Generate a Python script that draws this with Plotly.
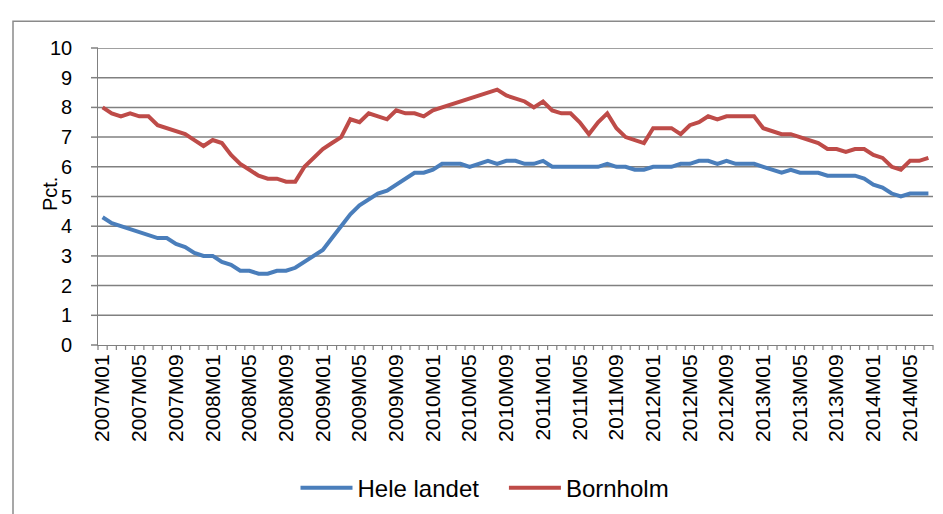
import plotly.graph_objects as go

# Months 2007M01 .. 2014M07
years = [2007, 2008, 2009, 2010, 2011, 2012, 2013, 2014]
categories = [f"{y}M{m:02d}" for y in years for m in range(1, 13)][:91]

hele_landet = [
    4.3, 4.1, 4.0, 3.9, 3.8, 3.7, 3.6, 3.6, 3.4, 3.3,
    3.1, 3.0, 3.0, 2.8, 2.7, 2.5, 2.5, 2.4, 2.4, 2.5,
    2.5, 2.6, 2.8, 3.0, 3.2, 3.6, 4.0, 4.4, 4.7, 4.9,
    5.1, 5.2, 5.4, 5.6, 5.8, 5.8, 5.9, 6.1, 6.1, 6.1,
    6.0, 6.1, 6.2, 6.1, 6.2, 6.2, 6.1, 6.1, 6.2, 6.0,
    6.0, 6.0, 6.0, 6.0, 6.0, 6.1, 6.0, 6.0, 5.9, 5.9,
    6.0, 6.0, 6.0, 6.1, 6.1, 6.2, 6.2, 6.1, 6.2, 6.1,
    6.1, 6.1, 6.0, 5.9, 5.8, 5.9, 5.8, 5.8, 5.8, 5.7,
    5.7, 5.7, 5.7, 5.6, 5.4, 5.3, 5.1, 5.0, 5.1, 5.1,
    5.1,
]

bornholm = [
    8.0, 7.8, 7.7, 7.8, 7.7, 7.7, 7.4, 7.3, 7.2, 7.1,
    6.9, 6.7, 6.9, 6.8, 6.4, 6.1, 5.9, 5.7, 5.6, 5.6,
    5.5, 5.5, 6.0, 6.3, 6.6, 6.8, 7.0, 7.6, 7.5, 7.8,
    7.7, 7.6, 7.9, 7.8, 7.8, 7.7, 7.9, 8.0, 8.1, 8.2,
    8.3, 8.4, 8.5, 8.6, 8.4, 8.3, 8.2, 8.0, 8.2, 7.9,
    7.8, 7.8, 7.5, 7.1, 7.5, 7.8, 7.3, 7.0, 6.9, 6.8,
    7.3, 7.3, 7.3, 7.1, 7.4, 7.5, 7.7, 7.6, 7.7, 7.7,
    7.7, 7.7, 7.3, 7.2, 7.1, 7.1, 7.0, 6.9, 6.8, 6.6,
    6.6, 6.5, 6.6, 6.6, 6.4, 6.3, 6.0, 5.9, 6.2, 6.2,
    6.3,
]

y_ticks = list(range(0, 11))
label_step = 4

x_idx = list(range(len(categories)))
tick_pos = x_idx[::label_step]
tick_text = categories[::label_step]

FONT = "Liberation Sans"
GRID = "#808080"
NBSP = "\u00a0"

W, H = 943, 514
L, R, T, B = 90, 18, 40, 173
pw, ph = W - L - R, H - T - B

def px(xp):
    return (xp - L) / pw

def py(yp):
    return (H - B - yp) / ph

xr = [-0.5, len(categories) - 0.5]
yr = [0, 10]

def xpaper(v):
    return (v - xr[0]) / (xr[1] - xr[0])

def ypaper(v):
    return (v - yr[0]) / (yr[1] - yr[0])

fig = go.Figure()

# horizontal gridlines, drawn on the data axes beneath the series
gx, gy = [], []
for v in y_ticks[1:]:
    gx += [xr[0], xr[1], None]
    gy += [v, v, None]
fig.add_trace(go.Scatter(x=gx, y=gy, mode="lines", line=dict(color=GRID, width=1.5),
                         showlegend=False, hoverinfo="skip"))

fig.add_trace(go.Scatter(x=x_idx, y=hele_landet, mode="lines",
                         name="Hele landet" + NBSP * 3,
                         line=dict(color="#4a7ebb", width=4)))
fig.add_trace(go.Scatter(x=x_idx, y=bornholm, mode="lines", name="Bornholm",
                         line=dict(color="#be4b48", width=4)))

shapes = []
# y-axis tick marks
for v in y_ticks:
    shapes.append(dict(type="line", xref="paper", yref="paper", x0=-7 / pw, x1=0,
                       y0=ypaper(v), y1=ypaper(v), line=dict(color=GRID, width=1.5)))
# x-axis tick marks at category boundaries
for i in range(len(categories) + 1):
    b = xpaper(i - 0.5)
    shapes.append(dict(type="line", xref="paper", yref="paper", x0=b, x1=b, y0=0, y1=-5 / ph,
                       line=dict(color=GRID, width=1.2)))
# outer chart border
shapes.append(dict(type="rect", xref="paper", yref="paper",
                   x0=px(5), x1=px(960), y0=py(530), y1=py(13),
                   line=dict(color="#8a8a8a", width=1.5), fillcolor="rgba(0,0,0,0)"))

annotations = [dict(text=str(v), xref="paper", yref="paper", x=px(66), y=ypaper(v),
                    xanchor="right", yanchor="middle", showarrow=False,
                    font=dict(size=20, family=FONT, color="black")) for v in y_ticks]
annotations.append(dict(text="Pct.", xref="paper", yref="paper", x=px(42), y=py(188),
                        xanchor="center", yanchor="middle", textangle=-90, showarrow=False,
                        font=dict(size=20, family=FONT, color="black")))

fig.update_layout(
    width=W, height=H,
    margin=dict(l=L, r=R, t=T, b=B, pad=0),
    paper_bgcolor="white", plot_bgcolor="white",
    font=dict(family=FONT, color="black"),
    showlegend=True,
    legend=dict(orientation="h", x=px(477), xanchor="center", y=py(486), yanchor="middle",
                font=dict(size=24, family=FONT), itemwidth=52, tracegroupgap=0,
                bgcolor="rgba(0,0,0,0)"),
    annotations=annotations,
    shapes=shapes,
)
fig.update_xaxes(
    range=xr, tickmode="array", tickvals=tick_pos, ticktext=tick_text,
    tickangle=-90, tickfont=dict(size=21, family=FONT),
    ticks="", showgrid=False, zeroline=False,
    showline=True, linecolor=GRID, linewidth=1,
)
fig.update_yaxes(
    range=yr, tickmode="array", tickvals=y_ticks, showticklabels=False,
    ticks="", showgrid=False,
    zeroline=False, showline=True, linecolor=GRID, linewidth=1,
)

fig.write_html("out.html")
